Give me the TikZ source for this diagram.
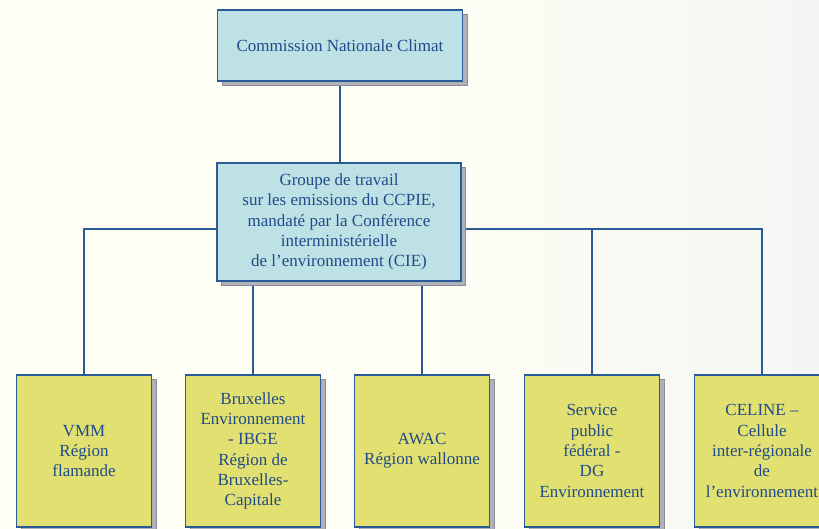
\documentclass[tikz,border=0pt]{standalone}
\usepackage{fontspec}
\setmainfont{Liberation Serif}
\usetikzlibrary{shadows}
\definecolor{bgL}{HTML}{FFFEF5}
\definecolor{bgR}{HTML}{F3F6F3}
\definecolor{edge}{HTML}{2B5B96}
\definecolor{txt}{HTML}{1F4B8A}
\definecolor{bluefill}{HTML}{BEE1E6}
\definecolor{yelfill}{HTML}{E2E070}
\definecolor{shad}{HTML}{B0B2B9}
\pgfdeclarelayer{back}
\pgfdeclarelayer{bg}
\pgfsetlayers{back,bg,main}
\tikzset{
  box/.style={draw=edge, line width=1.3pt, inner sep=0pt, align=center,
    text=txt, font=\fontsize{17}{20.3}\selectfont,
    drop shadow={shadow xshift=4.5pt, shadow yshift=-4.5pt, fill=shad, opacity=1, draw=shad!80!black, line width=0.4pt}},
  bluebox/.style={box, fill=bluefill},
  yelbox/.style={box, fill=yelfill, minimum width=135pt, minimum height=152pt},
  conn/.style={draw=edge, line width=1.3pt}
}
\begin{document}
\begin{tikzpicture}[x=1pt,y=-1pt]
\useasboundingbox (0,0) rectangle (819,529);
\begin{pgfonlayer}{back}
\shade[left color=bgL, right color=bgR, middle color=bgL] (0,0) rectangle (819,529);
\end{pgfonlayer}

\node[bluebox, minimum width=245pt, minimum height=71pt] (top) at (340,45.5) {Commission Nationale Climat};
\node[bluebox, minimum width=244pt, minimum height=118pt] (mid) at (339,222) {Groupe de travail\\ sur les emissions du CCPIE,\\ mandat\'e par la Conf\'erence\\ interminist\'erielle\\ de l'environnement (CIE)};

\node[yelbox] (b1) at (84,451) {VMM\\ R\'egion\\ flamande};
\node[yelbox] (b2) at (253,451) {Bruxelles\\ Environnement\\ - IBGE\\ R\'egion de\\ Bruxelles-\\ Capitale};
\node[yelbox] (b3) at (422,451) {AWAC\\ R\'egion wallonne};
\node[yelbox] (b4) at (592,451) {Service\\ public\\ f\'ed\'eral -\\ DG\\ Environnement};
\node[yelbox] (b5) at (762,451) {CELINE --\\ Cellule\\ inter-r\'egionale\\ de\\ l'environnement};

\coordinate (jl) at (mid.west |- 0,229);
\coordinate (jr) at (mid.east |- 0,229);
\begin{pgfonlayer}{bg}
\draw[conn] (top.south) -- (top.south |- mid.north);
\draw[conn] (b1.north) |- (jl);
\draw[conn] (jr) -| (b5.north);
\draw[conn] (b4.north) -- (b4.north |- jr);
\draw[conn] (b2.north) -- (b2.north |- mid.south);
\draw[conn] (b3.north) -- (b3.north |- mid.south);
\end{pgfonlayer}
\end{tikzpicture}
\end{document}
